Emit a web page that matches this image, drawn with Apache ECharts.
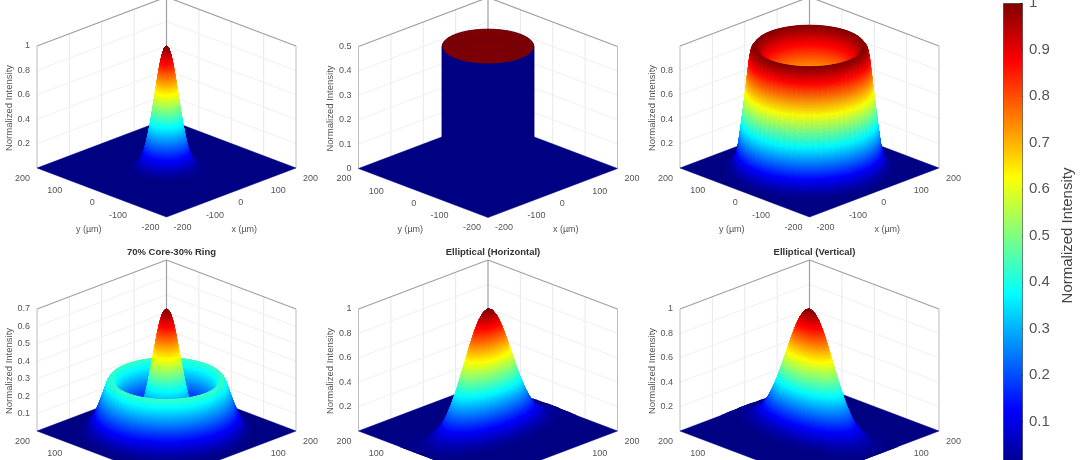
<!DOCTYPE html>
<html><head><meta charset="utf-8">
<style>html,body{margin:0;padding:0;background:#fff}#c{width:1080px;height:460px;filter:blur(0.5px)}</style>
<script src="https://cdn.jsdelivr.net/npm/echarts@6/dist/echarts.min.js"></script>
</head><body><div id="c"></div>
<script>
// ---- values ----
const panelTitles = ['', '', '', '70% Core-30% Ring', 'Elliptical (Horizontal)', 'Elliptical (Vertical)'];
const xyTicks = [-200, -100, 0, 100, 200];
const zTicksGaussian = [0.2, 0.4, 0.6, 0.8, 1];
const zTicksTopHat = [0, 0.1, 0.2, 0.3, 0.4, 0.5];
const zTicksRing = [0.2, 0.4, 0.6, 0.8];
const zTicksCoreRing = [0.1, 0.2, 0.3, 0.4, 0.5, 0.6, 0.7];
const colorbarTicks = [0, 0.1, 0.2, 0.3, 0.4, 0.5, 0.6, 0.7, 0.8, 0.9, 1];

const gaussianRadius = [0, 5, 10, 15, 20, 25, 30, 35, 40, 45, 50, 55, 60, 70, 80, 90, 100];
const gaussianIntensity = [1, 0.98, 0.923, 0.835, 0.726, 0.607, 0.487, 0.375, 0.278, 0.198, 0.135, 0.089, 0.056, 0.02, 0.006, 0.002, 0];

const topHatRadius = [0, 100, 100];
const topHatIntensity = [0.5, 0.5, 0];

const ringRadius = [0, 25, 50, 70, 85, 100, 110, 120, 127, 131, 135, 140, 145, 150, 155, 160, 170, 180, 190];
const ringIntensity = [0.68, 0.69, 0.71, 0.76, 0.82, 0.9, 0.96, 1, 0.97, 0.9, 0.78, 0.62, 0.47, 0.33, 0.2, 0.1, 0.03, 0.01, 0];

const coreRingRadius = [0, 5, 10, 15, 20, 25, 30, 35, 40, 50, 60, 70, 80, 90, 100, 110, 115, 120, 125, 130, 140, 150, 160, 170, 180, 190];
const coreRingIntensity = [0.7, 0.69, 0.665, 0.62, 0.56, 0.49, 0.42, 0.35, 0.28, 0.17, 0.11, 0.08, 0.085, 0.115, 0.175, 0.25, 0.285, 0.3, 0.295, 0.275, 0.2, 0.13, 0.07, 0.03, 0.01, 0];

const ellipseRadius = [0, 0.1, 0.2, 0.3, 0.4, 0.5, 0.6, 0.7, 0.8, 0.9, 1, 1.1, 1.2, 1.3, 1.4, 1.5, 1.6, 1.8, 2];
const ellipseIntensity = [1, 0.98, 0.923, 0.835, 0.726, 0.607, 0.487, 0.375, 0.278, 0.198, 0.135, 0.089, 0.056, 0.034, 0.02, 0.011, 0.006, 0.002, 0];
const horizontalWaist = [128, 62];
const verticalWaist = [62, 128];

// ---- layout ----
const panels = [
  {cx: 166.5, floor: 168, zMax: 1, zTicks: zTicksGaussian, r: gaussianRadius, v: gaussianIntensity, waist: [1, 1]},
  {cx: 488, floor: 168.5, zMax: 0.5, zTicks: zTicksTopHat, r: topHatRadius, v: topHatIntensity, waist: [1, 1]},
  {cx: 809.5, floor: 168, zMax: 1, zTicks: zTicksRing, r: ringRadius, v: ringIntensity, waist: [1, 1]},
  {cx: 166.5, floor: 431, zMax: 0.7, zTicks: zTicksCoreRing, r: coreRingRadius, v: coreRingIntensity, waist: [1, 1]},
  {cx: 488, floor: 431, zMax: 1, zTicks: zTicksGaussian, r: ellipseRadius, v: ellipseIntensity, waist: horizontalWaist},
  {cx: 809.5, floor: 431, zMax: 1, zTicks: zTicksGaussian, r: ellipseRadius, v: ellipseIntensity, waist: verticalWaist}
];
const HALF_W = 129.5, HEIGHT = 122, DEPTH = 49, SECTORS = 72;
const TEXT = '#555', FONT = '"Liberation Sans", Arial, sans-serif';

const jetStops = [[0, [0, 0, 131]], [0.125, [0, 0, 255]], [0.375, [0, 255, 255]], [0.625, [255, 255, 0]], [0.875, [255, 0, 0]], [1, [128, 0, 0]]];
function jet(t) {
  t = Math.max(0, Math.min(1, t));
  for (let i = 1; i < jetStops.length; i++) {
    if (t <= jetStops[i][0]) {
      const a = jetStops[i - 1], b = jetStops[i], k = (t - a[0]) / (b[0] - a[0]);
      return 'rgb(' + a[1].map((c, j) => Math.round(c + (b[1][j] - c) * k)).join(',') + ')';
    }
  }
  return 'rgb(128,0,0)';
}
function project(p, x, y, z) {
  return [(x - y) / 400, (x + y) / 400 * DEPTH / HEIGHT + z / p.zMax];
}

function buildSurface(p) {
  const quads = [];
  const clampXY = v => Math.max(-200, Math.min(200, v));
  const at = (r, k) => {
    const th = k / SECTORS * Math.PI * 2;
    return [clampXY(r * p.waist[0] * Math.cos(th)), clampXY(r * p.waist[1] * Math.sin(th))];
  };
  for (let i = 0; i + 1 < p.r.length; i++) {
    const r0 = p.r[i], r1 = p.r[i + 1], z0 = p.v[i], z1 = p.v[i + 1];
    const wall = r0 === r1;
    const sub = wall ? 1 : Math.max(1, Math.ceil(Math.abs(z1 - z0) / p.zMax / 0.005));
    for (let s = 0; s < sub; s++) {
      const a = s / sub, b = (s + 1) / sub;
      const ra = r0 + (r1 - r0) * a, rb = r0 + (r1 - r0) * b;
      const za = z0 + (z1 - z0) * a, zb = z0 + (z1 - z0) * b;
      const t = wall ? Math.min(za, zb) / p.zMax : (za + zb) / 2 / p.zMax;
      for (let k = 0; k < SECTORS; k++) {
        const A = at(ra, k), B = at(ra, k + 1), C = at(rb, k + 1), D = at(rb, k);
        const depth = (A[0] + A[1] + B[0] + B[1] + C[0] + C[1] + D[0] + D[1]) / 4;
        quads.push({depth, t, pts: [project(p, A[0], A[1], za), project(p, B[0], B[1], za), project(p, C[0], C[1], zb), project(p, D[0], D[1], zb)]});
      }
    }
  }
  quads.sort((q1, q2) => q2.depth - q1.depth);
  quads.unshift({depth: 0, t: 0, pts: [project(p, -200, -200, 0), project(p, 200, -200, 0), project(p, 200, 200, 0), project(p, -200, 200, 0)]});
  return quads;
}

function buildFrame(p) {
  const seg = [];
  const zm = p.zMax;
  const faint = '#e8e8e8', box = '#a0a0a0', side = '#bcbcbc';
  xyTicks.slice(1, -1).forEach(t => {
    seg.push({a: [t, 200, 0], b: [t, 200, zm], c: faint});
    seg.push({a: [200, t, 0], b: [200, t, zm], c: faint});
  });
  p.zTicks.forEach(z => {
    if (z <= 0 || z >= zm) return;
    seg.push({a: [-200, 200, z], b: [200, 200, z], c: '#f0f0f0'});
    seg.push({a: [200, 200, z], b: [200, -200, z], c: '#f0f0f0'});
  });
  seg.push({a: [-200, 200, zm], b: [200, 200, zm], c: box, w: 1.2});
  seg.push({a: [200, 200, zm], b: [200, -200, zm], c: box, w: 1.2});
  seg.push({a: [200, 200, 0], b: [200, 200, zm], c: box, w: 1.2});
  seg.push({a: [-200, 200, 0], b: [-200, 200, zm], c: side});
  seg.push({a: [200, -200, 0], b: [200, -200, zm], c: side});
  return seg;
}

function buildLabels(p) {
  const L = [];
  const base = {size: 9};
  xyTicks.forEach(t => {
    L.push({...base, text: String(t), at: [t, -200, 0], dx: 7, dy: 10.5, align: 'left'});
    L.push({...base, text: String(t), at: [-200, t, 0], dx: -7, dy: 10.5, align: 'right'});
  });
  p.zTicks.forEach(z => L.push({...base, text: String(z), at: [-200, 200, z], dx: -7, dy: 0, align: 'right'}));
  L.push({...base, text: 'y (µm)', at: [-200, 0, 0], dx: -13, dy: 37, align: 'center'});
  L.push({...base, text: 'x (µm)', at: [0, -200, 0], dx: 13, dy: 37, align: 'center'});
  L.push({size: 9.5, text: 'Normalized Intensity', at: [-200, 200, p.zMax / 2], dx: -28, dy: 1, align: 'center', rot: Math.PI / 2});
  return L;
}

const grids = [], xAxes = [], yAxes = [], series = [], titles = [];
const vMin = -DEPTH / HEIGHT, vMax = 1 + DEPTH / HEIGHT;
panels.forEach((p, i) => {
  grids.push({outerBoundsMode: 'none', left: p.cx - HALF_W, width: HALF_W * 2, top: p.floor - vMax * HEIGHT, height: (vMax - vMin) * HEIGHT});
  xAxes.push({gridIndex: i, type: 'value', min: -1, max: 1, show: false});
  yAxes.push({gridIndex: i, type: 'value', min: vMin, max: vMax, show: false, scale: true});
  const common = {type: 'custom', coordinateSystem: 'cartesian2d', xAxisIndex: i, yAxisIndex: i, silent: true, animation: false, progressive: 0, clip: false};
  const seg = buildFrame(p), quads = buildSurface(p), labs = buildLabels(p);
  series.push({...common, data: seg.map((_, k) => [k]), encode: {x: [], y: []}, renderItem(params, api) {
    const s = seg[params.dataIndex];
    const a = api.coord(project(p, ...s.a)), b = api.coord(project(p, ...s.b));
    return {type: 'line', shape: {x1: a[0], y1: a[1], x2: b[0], y2: b[1]}, style: {stroke: s.c, lineWidth: s.w || 1, fill: null}};
  }});
  series.push({...common, data: quads.map((_, k) => [k]), encode: {x: [], y: []}, renderItem(params, api) {
    const q = quads[params.dataIndex], c = jet(q.t);
    return {type: 'polygon', shape: {points: q.pts.map(pt => api.coord(pt))}, style: {fill: c, stroke: c, lineWidth: 0.5}};
  }});
  series.push({...common, data: labs.map((_, k) => [k]), encode: {x: [], y: []}, renderItem(params, api) {
    const l = labs[params.dataIndex], a = api.coord(project(p, ...l.at));
    return {type: 'text', x: a[0] + l.dx, y: a[1] + l.dy, rotation: l.rot || 0,
      style: {text: l.text, fontSize: l.size, fontFamily: FONT, fill: TEXT, align: l.align, verticalAlign: 'middle'}};
  }});
  if (panelTitles[i]) titles.push({text: panelTitles[i], left: p.cx, top: p.floor - 189, textAlign: 'center',
    textStyle: {fontSize: 9.5, fontWeight: 'bold', color: '#333', fontFamily: FONT}});
});

// colour bar
const cb = panels.length;
grids.push({outerBoundsMode: 'none', left: 1003, width: 20, top: 3, height: 465});
xAxes.push({gridIndex: cb, type: 'category', data: ['I'], show: false});
yAxes.push({gridIndex: cb, type: 'value', position: 'right', min: 0, max: 1, interval: 0.1,
  axisLine: {show: false}, splitLine: {show: false},
  axisTick: {show: true, inside: true, length: 3, lineStyle: {color: 'rgba(0,0,0,0.55)'}},
  axisLabel: {show: true, fontSize: 15, color: '#555', margin: 6, fontFamily: FONT, showMinLabel: true, showMaxLabel: true,
    formatter: v => String(Math.round(v * 10) / 10)},
  name: 'Normalized Intensity', nameLocation: 'middle', nameGap: 37, nameRotate: 90,
  nameTextStyle: {fontSize: 15, color: '#444', fontFamily: FONT}});
series.push({type: 'bar', xAxisIndex: cb, yAxisIndex: cb, data: [colorbarTicks[colorbarTicks.length - 1]], barWidth: '100%', silent: true, animation: false,
  itemStyle: {borderColor: 'rgba(0,0,0,0.45)', borderWidth: 1, color: {type: 'linear', x: 0, y: 1, x2: 0, y2: 0,
    colorStops: jetStops.map(s => ({offset: s[0], color: jet(s[0])}))}}});

const chart = echarts.init(document.getElementById('c'), null, {renderer: 'canvas'});
chart.setOption({animation: false, backgroundColor: '#fff', tooltip: {show: false}, title: titles, grid: grids, xAxis: xAxes, yAxis: yAxes, series});
</script></body></html>
